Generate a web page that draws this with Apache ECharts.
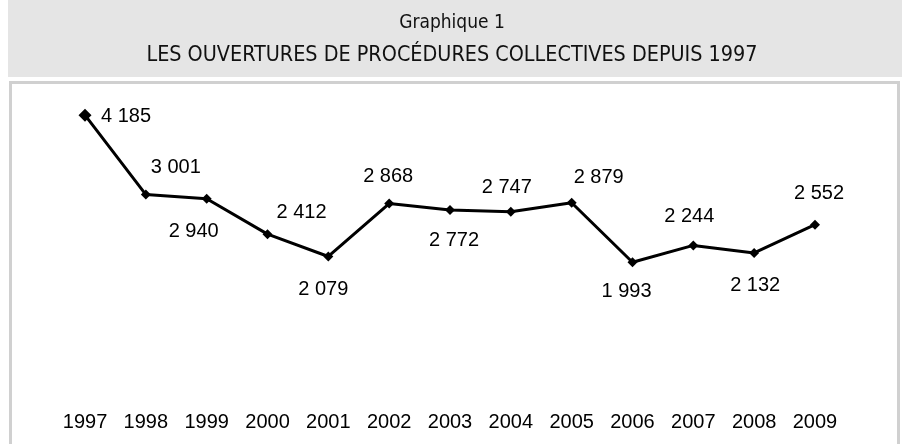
<!DOCTYPE html>
<html>
<head>
<meta charset="utf-8">
<script src="https://cdn.jsdelivr.net/npm/echarts@6/dist/echarts.min.js"></script>
<style>
html,body{margin:0;padding:0;background:#fff;}
#chart{width:904px;height:444px;}
</style>
</head>
<body>
<div id="chart"></div>
<script>
const years = ['1997','1998','1999','2000','2001','2002','2003','2004','2005','2006','2007','2008','2009'];
const procedures = [4185, 3001, 2940, 2412, 2079, 2868, 2772, 2747, 2879, 1993, 2244, 2132, 2552];
const titleLine1 = 'Graphique 1';
const titleLine2 = 'LES OUVERTURES DE PROCÉDURES COLLECTIVES DEPUIS 1997';

// label placement offsets (style), [dx, dy] from point centre
const labelOffsets = [[41,1],[30,-27],[-13,33],[34,-22],[-5,33],[-1,-27],[4,31],[-4,-24],[27,-25],[-6,29],[-4,-29],[1,33],[4,-31]];

function fmt(v){ return String(v).replace(/\B(?=(\d{3})+(?!\d))/g, ' '); }

const chart = echarts.init(document.getElementById('chart'), null, {renderer:'canvas'});
const seriesData = procedures.map((v, i) => ({
  value: v,
  symbolSize: i === 0 ? 13 : 10,
  label: { offset: labelOffsets[i] }
}));

const titleFont = '"DejaVu Sans Condensed","Liberation Sans Narrow",sans-serif';

chart.setOption({
  animation: false,
  backgroundColor: '#ffffff',
  graphic: [
    { type: 'rect', shape: { x: 8, y: 0, width: 894, height: 77 }, style: { fill: '#e5e5e5' }, z: -10 },
    { type: 'rect', shape: { x: 10.5, y: 82.5, width: 888, height: 380 }, style: { fill: 'none', stroke: '#d0d0d0', lineWidth: 3 }, z: -10 }
  ],
  title: [
    { text: titleLine1, left: 'center', top: 9, textStyle: { fontFamily: titleFont, fontSize: 19, fontWeight: 'normal', color: '#111' } },
    { text: titleLine2, left: 'center', top: 40, textStyle: { fontFamily: titleFont, fontSize: 21.4, fontWeight: 'normal', color: '#111' } }
  ],
  grid: { left: 54.6, right: 58.6, top: 94, bottom: 48, containLabel: false },
  xAxis: {
    type: 'category',
    data: years,
    boundaryGap: true,
    axisLine: { show: false },
    axisTick: { show: false },
    splitLine: { show: false },
    axisLabel: { margin: 16, fontSize: 20, color: '#000', fontFamily: '"Liberation Sans", Arial, sans-serif' }
  },
  yAxis: {
    type: 'value', min: 0, max: 4500, show: false, splitLine: { show: false }
  },
  series: [{
    type: 'line',
    data: seriesData,
    symbol: 'diamond',
    lineStyle: { color: '#000', width: 3 },
    itemStyle: { color: '#000' },
    label: {
      show: true,
      position: 'inside',
      align: 'center',
      verticalAlign: 'middle',
      color: '#000',
      fontSize: 20,
      fontFamily: '"Liberation Sans", Arial, sans-serif',
      formatter: p => fmt(p.value)
    }
  }]
});
</script>
</body>
</html>
